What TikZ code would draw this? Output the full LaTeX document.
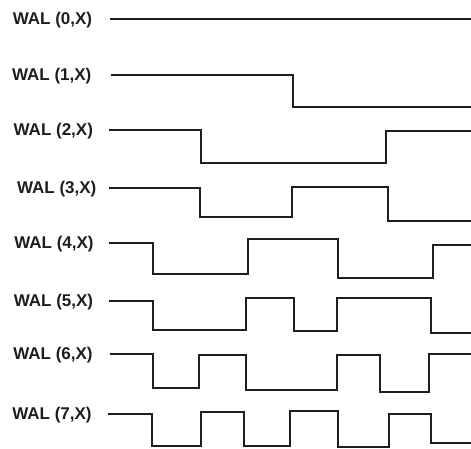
\documentclass[tikz,border=0pt]{standalone}
\usepackage{fontspec}
\setmainfont{Liberation Sans}
\definecolor{ink}{HTML}{1E1E1E}
\begin{document}
\begin{tikzpicture}[x=1pt,y=-1pt,
  lab/.style={font=\fontsize{17}{19}\selectfont\bfseries, text=ink, inner sep=0pt, anchor=center, yshift=-1.2pt},
  wave/.style={draw=ink, line width=1.9pt, line join=miter}]
\useasboundingbox (0,0) rectangle (471,448);
\node[lab] (l0) at (52.5,19.3) {WAL (0,X)};
\node[lab] (l1) at (51.7,74.7) {WAL (1,X)};
\node[lab] (l2) at (53.3,130.3) {WAL (2,X)};
\node[lab] (l3) at (56.7,188.3) {WAL (3,X)};
\node[lab] (l4) at (54,242.7) {WAL (4,X)};
\node[lab] (l5) at (53.5,300.5) {WAL (5,X)};
\node[lab] (l6) at (53,354) {WAL (6,X)};
\node[lab] (l7) at (52,413.5) {WAL (7,X)};
\coordinate (s0) at (110,19.3);
\coordinate (s1) at (110.7,74.7);
\coordinate (s2) at (109,130.3);
\coordinate (s3) at (108.7,187.7);
\coordinate (s4) at (108.7,243.3);
\coordinate (s5) at (108.7,300.7);
\coordinate (s6) at (110,354);
\coordinate (s7) at (108,414);
\draw[wave] (s0) -- (471,19.3);
\draw[wave] (s1) -- (293.3,74.7) -- (293.3,107.3) -- (471,107.3);
\draw[wave] (s2) -- (200.7,130.3) -- (200.7,163) -- (386,163) -- (386,131.3) -- (471,131.3);
\draw[wave] (s3) -- (200,187.7) -- (200,217.3) -- (291.7,217.3) -- (291.7,187.3) -- (388.3,187.3) -- (388.3,220.7) -- (471,220.7);
\draw[wave] (s4) -- (153.3,243.3) -- (153.3,274.3) -- (247.7,274.3) -- (247.7,239.3) -- (338.3,239.3) -- (338.3,277.7) -- (432.7,277.7) -- (432.7,245.3) -- (471,245.3);
\draw[wave] (s5) -- (153.3,300.7) -- (153.3,330) -- (245.7,330) -- (245.7,298.3) -- (294.3,298.3) -- (294.3,330.7) -- (336.7,330.7) -- (336.7,298.3) -- (431,298.3) -- (431,333.3) -- (471,333.3);
\draw[wave] (s6) -- (152.7,354) -- (152.7,387.7) -- (199,387.7) -- (199,355) -- (245.7,355) -- (245.7,390) -- (336.7,390) -- (336.7,355.3) -- (380,355.3) -- (380,392.3) -- (429.3,392.3) -- (429.3,354) -- (471,354);
\draw[wave] (s7) -- (152.3,414) -- (152.3,446) -- (201,446) -- (201,411.7) -- (244,411.7) -- (244,446) -- (290,446) -- (290,410.7) -- (338.3,410.7) -- (338.3,446.7) -- (388.7,446.7) -- (388.7,414) -- (431,414) -- (431,443.3) -- (471,443.3);
\end{tikzpicture}
\end{document}
